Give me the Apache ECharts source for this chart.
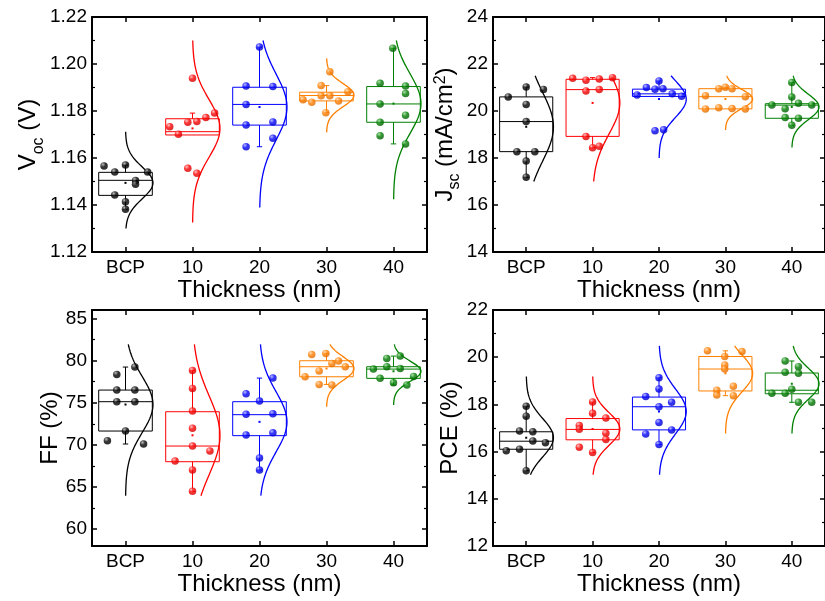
<!DOCTYPE html>
<html>
<head>
<meta charset="utf-8">
<script src="https://cdn.jsdelivr.net/npm/echarts@6/dist/echarts.min.js"></script>
<style>
  html, body { margin: 0; padding: 0; background: #ffffff; }
  #chart { width: 825px; height: 601px; }
</style>
</head>
<body>
<div id="chart"></div>
<script>
// Device statistics per hole-blocking layer: BCP reference and four thicknesses.
const categories = ['BCP', '10', '20', '30', '40'];
const groupColors = ['#000000', '#FF0000', '#0000FF', '#FF8000', '#008000'];
const groupLight  = ['#a8a8a8', '#ffb4b4', '#a8a8ff', '#ffd2a4', '#98d898'];
const groupDark   = ['#000000', '#cc0000', '#0000c0', '#dd6a00', '#005a00'];

// ---- Voc (V) ----
const vocValues = [
  [1.1566, 1.1540, 1.1570, 1.1540, 1.1504, 1.1488, 1.1443, 1.1414, 1.1382],
  [1.1939, 1.1733, 1.1701, 1.1752, 1.1755, 1.1772, 1.1791, 1.1556, 1.1535],
  [1.2072, 1.1906, 1.1904, 1.1828, 1.1740, 1.1753, 1.1684, 1.1648],
  [1.1967, 1.1908, 1.1882, 1.1865, 1.1865, 1.1848, 1.1837, 1.1843, 1.1793],
  [1.2067, 1.1918, 1.1906, 1.1874, 1.1830, 1.1782, 1.1752, 1.1695, 1.1660]
];
const vocJitter = [
  [-0.32, -0.16, 0, 0.33, 0.15, 0.15, -0.16, 0, 0],
  [0, -0.34, -0.21, -0.07, 0.065, 0.2, 0.33, -0.07, 0.065],
  [0, -0.2, 0.2, -0.2, -0.2, 0.2, 0.2, -0.2],
  [0.05, -0.08, 0.32, -0.08, 0.05, -0.35, -0.22, 0.18, -0.01],
  [-0.01, -0.2, 0.18, 0.18, -0.2, 0.18, -0.2, -0.2, 0.18]
];
// [lower whisker, Q1, median, Q3, upper whisker]
const vocBoxes = [
  [1.1382, 1.1441, 1.1505, 1.1539, 1.1570],
  [1.1698, 1.1698, 1.1712, 1.1767, 1.1791],
  [1.1648, 1.1740, 1.1828, 1.1901, 1.2072],
  [1.1793, 1.1843, 1.1866, 1.1880, 1.1908],
  [1.1660, 1.1752, 1.1830, 1.1904, 1.2067]
];
const vocCurveRange = [[1.1300, 1.1712], [1.1326, 1.2100], [1.1389, 1.2100], [1.1709, 1.2024], [1.1424, 1.2100]];
const vocTicks = [1.12, 1.14, 1.16, 1.18, 1.20, 1.22];
const vocMinorTicks = [1.13, 1.15, 1.17, 1.19, 1.21];

// ---- Jsc (mA/cm2) ----
const jscValues = [
  [20.60, 21.02, 20.92, 20.28, 19.55, 18.27, 18.27, 17.87, 17.18],
  [21.39, 21.31, 21.36, 21.42, 20.85, 20.91, 18.92, 18.44, 18.50],
  [21.28, 20.68, 21.00, 20.93, 20.95, 20.73, 20.63, 19.16, 19.20],
  [20.65, 20.95, 21.01, 20.95, 20.61, 20.09, 20.14, 20.11, 20.09],
  [21.21, 20.60, 20.26, 20.10, 20.33, 20.26, 19.72, 19.69, 19.39]
];
const jscJitter = [
  [-0.27, 0, 0.26, 0, 0, -0.14, 0.13, 0, 0],
  [-0.3, -0.1, 0.1, 0.3, -0.1, 0.1, -0.1, 0, 0.1],
  [0, -0.33, -0.19, -0.06, 0.06, 0.2, 0.34, -0.06, 0.07],
  [-0.3, -0.1, 0, 0.1, 0.3, -0.3, -0.1, 0.1, 0.3],
  [0, 0, -0.3, -0.1, 0.1, 0.3, -0.1, 0.1, 0]
];
const jscBoxes = [
  [17.18, 18.27, 19.55, 20.60, 21.02],
  [18.44, 18.92, 20.91, 21.35, 21.42],
  [20.62, 20.62, 20.73, 20.93, 21.28],
  [20.09, 20.09, 20.61, 20.95, 21.01],
  [19.39, 19.69, 20.25, 20.31, 21.21]
];
const jscCurveRange = [[17.0, 21.5], [17.0, 21.5], [18.0, 21.5], [19.19, 21.5], [18.45, 21.5]];
const jscTicks = [14, 16, 18, 20, 22, 24];
const jscMinorTicks = [15, 17, 19, 21, 23];

// ---- FF (%) ----
const ffValues = [
  [79.23, 78.36, 76.50, 76.50, 75.12, 75.12, 71.64, 70.49, 70.10],
  [78.83, 76.70, 74.01, 71.96, 69.86, 69.27, 68.08, 67.02, 64.49],
  [77.92, 76.07, 75.20, 73.62, 73.70, 71.17, 71.44, 68.44, 67.02],
  [80.73, 80.85, 79.94, 79.66, 79.27, 78.75, 78.08, 77.17, 77.09],
  [80.26, 80.53, 78.99, 79.27, 79.07, 78.12, 77.89, 77.37, 77.09]
];
const ffJitter = [
  [0.14, -0.13, -0.13, 0.14, -0.13, 0.14, 0, -0.27, 0.27],
  [0, 0, 0, 0, 0, 0.26, -0.26, 0, 0],
  [0.2, -0.2, 0, -0.2, 0.2, -0.2, 0.2, 0, 0],
  [-0.22, -0.01, 0.18, 0.08, 0.28, -0.11, -0.32, -0.11, 0.08],
  [-0.1, 0.1, -0.3, -0.1, 0.1, 0.3, -0.2, 0, 0.2]
];
const ffBoxes = [
  [70.10, 71.64, 75.12, 76.50, 79.23],
  [64.49, 68.00, 69.86, 73.93, 78.83],
  [67.02, 71.09, 73.58, 75.12, 77.92],
  [77.17, 78.08, 79.27, 79.98, 80.85],
  [77.09, 77.89, 78.99, 79.27, 80.53]
];
const ffCurveRange = [[63.97, 81.92], [63.97, 81.92], [63.97, 81.92], [74.53, 81.92], [74.72, 81.92]];
const ffTicks = [60, 65, 70, 75, 80, 85];
const ffMinorTicks = [62.5, 67.5, 72.5, 77.5, 82.5];

// ---- PCE (%) ----
const pceValues = [
  [17.92, 17.50, 16.87, 16.84, 16.45, 16.38, 16.04, 16.10, 15.19],
  [18.10, 17.62, 17.42, 17.11, 16.95, 16.78, 16.51, 16.18, 15.96],
  [19.13, 18.65, 18.34, 18.09, 17.90, 17.23, 16.75, 16.92, 16.30],
  [20.27, 20.24, 20.03, 19.67, 19.50, 18.60, 18.77, 18.40, 18.37],
  [19.84, 19.60, 19.36, 19.32, 18.64, 18.47, 18.47, 18.09, 18.09]
];
const pceJitter = [
  [0, 0, -0.1, 0.1, 0.1, 0.29, -0.3, -0.1, 0],
  [0, 0, 0.2, -0.2, -0.2, 0.2, 0.2, -0.2, 0],
  [0, 0, -0.2, 0.19, 0, 0, -0.2, 0.19, 0],
  [-0.27, 0.25, -0.01, -0.01, -0.01, -0.13, 0.12, -0.13, 0.12],
  [-0.1, 0.1, -0.1, 0.1, 0, -0.3, -0.1, 0.1, 0.3]
];
const pceBoxes = [
  [15.19, 16.10, 16.44, 16.84, 17.92],
  [15.96, 16.50, 16.94, 17.40, 18.10],
  [16.30, 16.92, 17.90, 18.31, 19.13],
  [18.37, 18.57, 19.50, 20.03, 20.27],
  [18.09, 18.45, 18.60, 19.33, 19.84]
];
const pceCurveRange = [[15.02, 19.18], [15.02, 19.18], [15.02, 20.48], [16.77, 20.48], [16.77, 20.48]];
const pceTicks = [12, 14, 16, 18, 20, 22];
const pceMinorTicks = [13, 15, 17, 19, 21];

const FONT = '"Liberation Sans", Arial, Helvetica, sans-serif';
const BOX_HALF = 0.4;     // half box width, in category units
const CAP_HALF = 0.04;    // half whisker-cap width
const CURVE_PEAK = 0.41;  // peak width of the distribution curve
const CAT_POS = [0, 1, 2, 3, 4];

function stats(vals) {
  const n = vals.length;
  const mean = vals.reduce((a, b) => a + b, 0) / n;
  const sd = Math.sqrt(vals.reduce((a, b) => a + (b - mean) * (b - mean), 0) / (n - 1));
  return { mean, sd };
}

const titleRich = {
  t: { fontSize: 24, fontFamily: FONT, color: '#000', lineHeight: 24, verticalAlign: 'top' },
  s: { fontSize: 16, fontFamily: FONT, color: '#000', lineHeight: 16, verticalAlign: 'top', padding: [14, 0, 0, 0] },
  p: { fontSize: 16, fontFamily: FONT, color: '#000', lineHeight: 16, verticalAlign: 'top' }
};

const panels = [
  { values: vocValues, jitter: vocJitter, boxes: vocBoxes, ranges: vocCurveRange, ticks: vocTicks, minor: vocMinorTicks,
    min: 1.12, max: 1.22, digits: 2, name: '{t|V}{s|oc}{t| (V)}', nameGap: 48,
    grid: { left: 92, top: 17, width: 335, height: 235 } },
  { values: jscValues, jitter: jscJitter, boxes: jscBoxes, ranges: jscCurveRange, ticks: jscTicks, minor: jscMinorTicks,
    min: 14, max: 24, digits: 0, name: '{t|J}{s|sc}{t| (mA/cm}{p|2}{t|)}', nameGap: 25,
    grid: { left: 493, top: 17, width: 334, height: 235 } },
  { values: ffValues, jitter: ffJitter, boxes: ffBoxes, ranges: ffCurveRange, ticks: ffTicks, minor: ffMinorTicks,
    min: 58, max: 86, digits: 0, name: '{t|FF (%)}', nameGap: 29,
    grid: { left: 92, top: 310, width: 335, height: 236 } },
  { values: pceValues, jitter: pceJitter, boxes: pceBoxes, ranges: pceCurveRange, ticks: pceTicks, minor: pceMinorTicks,
    min: 12, max: 22, digits: 0, name: '{t|PCE (%)}', nameGap: 31,
    grid: { left: 493, top: 310, width: 334, height: 236 } }
];

const frameLine = { show: true, onZero: false, lineStyle: { color: '#000', width: 2 } };
const noLine = { show: false, onZero: false };

const grid = [], xAxis = [], yAxis = [], series = [];

panels.forEach((p, gi) => {
  grid.push(Object.assign({ show: false }, p.grid));

  const xIndex = xAxis.length;
  xAxis.push({
    gridIndex: gi, type: 'value', position: 'bottom', min: -0.5, max: 4.5,
    name: 'Thickness (nm)', nameLocation: 'middle', nameGap: 23,
    nameTextStyle: { fontSize: 24, fontFamily: FONT, color: '#000' },
    axisLine: frameLine,
    axisTick: { show: true, inside: true, length: 5, customValues: CAT_POS, lineStyle: { color: '#000', width: 1.5 } },
    axisLabel: { show: true, customValues: CAT_POS, formatter: v => categories[Math.round(v)],
      margin: 6, fontSize: 19, fontFamily: FONT, color: '#000' },
    splitLine: { show: false }
  });
  xAxis.push({
    gridIndex: gi, type: 'value', position: 'top', min: -0.5, max: 4.5,
    axisLine: frameLine,
    axisTick: { show: true, inside: true, length: 5, customValues: CAT_POS, lineStyle: { color: '#000', width: 1.5 } },
    axisLabel: { show: false }, splitLine: { show: false }
  });

  const yIndex = yAxis.length;
  const yBase = { gridIndex: gi, type: 'value', min: p.min, max: p.max, splitLine: { show: false } };
  // left: labels + major ticks
  yAxis.push(Object.assign({}, yBase, {
    position: 'left', name: p.name, nameLocation: 'middle', nameGap: p.nameGap, nameRotate: 90,
    nameTextStyle: { rich: titleRich },
    axisLine: frameLine,
    axisTick: { show: true, inside: true, length: 5, customValues: p.ticks, lineStyle: { color: '#000', width: 1.5 } },
    axisLabel: { show: true, customValues: p.ticks, formatter: v => v.toFixed(p.digits),
      margin: 5, fontSize: 19, fontFamily: FONT, color: '#000' }
  }));
  // right: frame line + major ticks
  yAxis.push(Object.assign({}, yBase, {
    position: 'right', axisLine: frameLine,
    axisTick: { show: true, inside: true, length: 5, customValues: p.ticks, lineStyle: { color: '#000', width: 1.5 } },
    axisLabel: { show: false }
  }));
  // minor ticks on both sides
  ['left', 'right'].forEach(pos => {
    yAxis.push(Object.assign({}, yBase, {
      position: pos, axisLine: noLine,
      axisTick: { show: true, inside: true, length: 3, customValues: p.minor, lineStyle: { color: '#000', width: 1.2 } },
      axisLabel: { show: false }
    }));
  });

  // box + whiskers + mean marker
  const boxData = p.boxes.map((b, i) => [i, b[0], b[1], b[2], b[3], b[4], stats(p.values[i]).mean]);
  series.push({
    type: 'custom', xAxisIndex: xIndex, yAxisIndex: yIndex, z: 2, silent: true,
    encode: { x: 0, y: [1, 2, 3, 4, 5] },
    data: boxData,
    renderItem: (params, api) => {
      const c = api.value(0), lo = api.value(1), q1 = api.value(2), med = api.value(3),
            q3 = api.value(4), hi = api.value(5), mean = api.value(6);
      const col = groupColors[params.dataIndex];
      const ls = { stroke: col, lineWidth: 1, fill: null };
      const tl = api.coord([c - BOX_HALF, q3]);
      const br = api.coord([c + BOX_HALF, q1]);
      const line = (a, b) => ({ type: 'line', shape: { x1: a[0], y1: a[1], x2: b[0], y2: b[1] }, style: ls });
      const kids = [
        { type: 'rect', shape: { x: tl[0], y: tl[1], width: br[0] - tl[0], height: br[1] - tl[1] }, style: ls },
        line(api.coord([c - BOX_HALF, med]), api.coord([c + BOX_HALF, med]))
      ];
      if (hi > q3) {
        kids.push(line(api.coord([c, q3]), api.coord([c, hi])));
        kids.push(line(api.coord([c - CAP_HALF, hi]), api.coord([c + CAP_HALF, hi])));
      }
      if (lo < q1) {
        kids.push(line(api.coord([c, q1]), api.coord([c, lo])));
        kids.push(line(api.coord([c - CAP_HALF, lo]), api.coord([c + CAP_HALF, lo])));
      }
      const m = api.coord([c, mean]);
      kids.push({ type: 'rect', shape: { x: m[0] - 1, y: m[1] - 1, width: 2, height: 2 }, style: { fill: col } });
      return { type: 'group', children: kids };
    }
  });

  // normal distribution curve fitted to each group
  const curveData = p.ranges.map((r, i) => {
    const s = stats(p.values[i]);
    return [i, s.mean, s.sd, r[0], r[1]];
  });
  series.push({
    type: 'custom', xAxisIndex: xIndex, yAxisIndex: yIndex, z: 3, silent: true,
    encode: { x: 0, y: [3, 4] },
    data: curveData,
    renderItem: (params, api) => {
      const c = api.value(0), mean = api.value(1), sd = api.value(2), lo = api.value(3), hi = api.value(4);
      const pts = [];
      const steps = 80;
      for (let k = 0; k <= steps; k++) {
        const v = lo + (hi - lo) * k / steps;
        const off = CURVE_PEAK * Math.exp(-((v - mean) * (v - mean)) / (2 * sd * sd));
        pts.push(api.coord([c + off, v]));
      }
      return { type: 'polyline', shape: { points: pts },
        style: { stroke: groupColors[params.dataIndex], lineWidth: 1.3, fill: null } };
    }
  });

  // individual devices
  const pts = [];
  p.values.forEach((vals, i) => {
    const color = {
      type: 'radial', x: 0.35, y: 0.3, r: 0.75,
      colorStops: [
        { offset: 0, color: groupLight[i] },
        { offset: 0.45, color: groupColors[i] },
        { offset: 1, color: groupDark[i] }
      ]
    };
    vals.forEach((v, k) => pts.push({ value: [i + p.jitter[i][k], v], itemStyle: { color } }));
  });
  series.push({
    type: 'scatter', xAxisIndex: xIndex, yAxisIndex: yIndex, z: 4, silent: true,
    symbol: 'circle', symbolSize: 7.5, data: pts
  });
});

const chart = echarts.init(document.getElementById('chart'), null, { renderer: 'canvas' });
chart.setOption({ animation: false, backgroundColor: '#ffffff', grid, xAxis, yAxis, series });
</script>
</body>
</html>
